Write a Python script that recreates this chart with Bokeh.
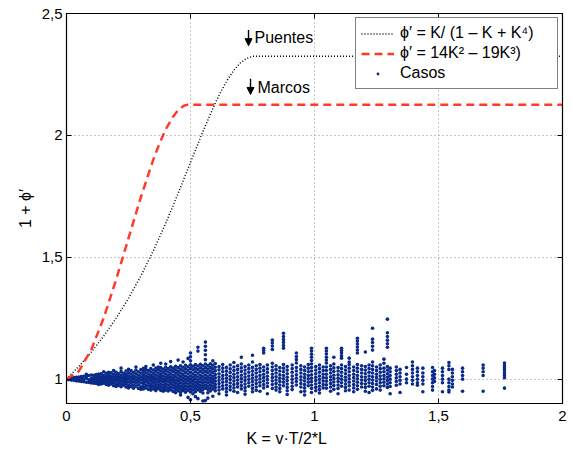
from bokeh.plotting import figure
from bokeh.models import FixedTicker, LinearAxis, Legend, LegendItem, Arrow, NormalHead, Title
from bokeh.core.properties import value
from bokeh.embed import file_html
from bokeh.resources import INLINE

FONT = "Liberation Sans"

# ---- curves (values read / tabulated) ----
k_puentes = [0.0, 0.05, 0.10, 0.15, 0.20, 0.25, 0.30, 0.35, 0.40, 0.45, 0.50, 0.55,
             0.60, 0.625, 0.65, 0.675, 0.70, 0.725, 0.75, 2.0]
y_puentes = [1.0, 1.0526, 1.1111, 1.1764, 1.2495, 1.3316, 1.4237, 1.5263, 1.6394, 1.7614,
             1.8889, 2.0157, 2.1329, 2.1846, 2.2299, 2.2674, 2.2961, 2.3151, 2.3242, 2.3242]

k_marcos = [0.0, 0.05, 0.10, 0.15, 0.20, 0.25, 0.30, 0.35, 0.375, 0.40, 0.425, 0.45, 0.475, 0.49, 2.0]
y_marcos = [1.0, 1.0326, 1.121, 1.2509, 1.408, 1.5781, 1.747, 1.9004, 1.9668, 2.024, 2.0702,
            2.1036, 2.1225, 2.1261, 2.1261]

# ---- cases (columns of points: K value and list of 1+phi' values) ----
casos_k = [
    0.0, 0.005, 0.01, 0.02, 0.03, 0.04, 0.05, 0.06, 0.07, 0.08, 0.09, 0.10,
    0.11, 0.12, 0.13, 0.14, 0.15, 0.16, 0.17, 0.18, 0.19, 0.20,
    0.21, 0.22, 0.23, 0.24, 0.25, 0.26, 0.27, 0.28, 0.29, 0.30,
    0.31, 0.32, 0.33, 0.34, 0.35, 0.36, 0.37, 0.38, 0.39, 0.40,
    0.41, 0.42, 0.43, 0.44, 0.45, 0.46, 0.47, 0.48, 0.49, 0.50,
    0.51, 0.52, 0.53, 0.54, 0.55, 0.56, 0.57, 0.58, 0.59, 0.60,
    0.615, 0.63, 0.645, 0.66, 0.675, 0.69, 0.705, 0.72, 0.735, 0.75,
    0.765, 0.78, 0.795, 0.81, 0.83, 0.845, 0.86, 0.875, 0.89, 0.91,
    0.927, 0.945, 0.96, 0.975, 0.988, 1.005, 1.02, 1.035, 1.048, 1.065,
    1.078, 1.095, 1.109, 1.125, 1.14, 1.158, 1.173, 1.19, 1.205, 1.22,
    1.234, 1.25, 1.265, 1.28, 1.294, 1.305,
    1.33, 1.345, 1.371, 1.395, 1.415, 1.437, 1.476, 1.484, 1.516, 1.542,
    1.556, 1.597, 1.68, 1.766,
]
casos_y = [
    [1.000], [1.001, 0.999], [1.002, 0.998, 1.000], [1.004, 0.996, 1.001],
    [1.006, 0.995, 0.999], [1.007, 0.993, 1.002], [1.009, 0.992, 0.999],
    [1.011, 0.990, 1.003], [1.012, 0.989, 0.998], [1.014, 0.987, 1.004, 1.020],
    [1.015, 0.986, 0.997], [1.017, 0.984, 1.003, 0.993],
    [1.016, 1.006, 0.997, 0.988, 0.983],
    [1.019, 1.008, 1.000, 0.991, 0.982],
    [1.012, 1.003, 0.994, 0.985, 1.021, 0.978],
    [1.022, 1.010, 0.998, 0.987, 0.980],
    [1.015, 1.004, 0.993, 0.983, 1.030],
    [1.024, 1.011, 1.001, 0.990, 0.978],
    [1.018, 1.006, 0.995, 0.984, 0.975, 1.028],
    [1.026, 1.013, 1.002, 0.991, 0.980],
    [1.020, 1.008, 0.996, 0.985, 0.973, 1.035],
    [1.028, 1.015, 1.003, 0.992, 0.979, 0.970],
    [1.022, 1.010, 0.998, 0.986, 0.974],
    [1.031, 1.017, 1.005, 0.993, 0.981, 0.969, 1.045],
    [1.024, 1.011, 0.999, 0.987, 0.975],
    [1.033, 1.019, 1.006, 0.994, 0.982, 0.968],
    [1.026, 1.013, 1.001, 0.988, 0.975, 0.964, 1.040],
    [1.035, 1.021, 1.008, 0.995, 0.983, 0.970],
    [1.028, 1.014, 1.002, 0.989, 0.976, 0.963],
    [1.037, 1.022, 1.009, 0.996, 0.984, 0.971, 1.050],
    [1.030, 1.016, 1.003, 0.990, 0.977, 0.962],
    [1.039, 1.024, 1.010, 0.997, 0.984, 0.969, 0.958],
    [1.032, 1.018, 1.006, 0.994, 0.982, 0.970, 0.960, 1.044],
    [1.040, 1.026, 1.013, 1.001, 0.989, 0.976, 0.964, 1.052],
    [1.035, 1.021, 1.008, 0.996, 0.984, 0.972, 0.958],
    [1.043, 1.029, 1.015, 1.003, 0.991, 0.978, 0.965, 0.955],
    [1.037, 1.023, 1.010, 0.998, 0.986, 0.973, 0.960, 1.058],
    [1.045, 1.031, 1.017, 1.004, 0.992, 0.979, 0.966, 0.953],
    [1.039, 1.025, 1.012, 0.999, 0.987, 0.974, 0.961, 1.050],
    [1.047, 1.033, 1.019, 1.006, 0.993, 0.980, 0.967, 0.954, 1.065],
    [1.041, 1.027, 1.013, 1.000, 0.988, 0.975, 0.962, 0.950],
    [1.049, 1.035, 1.021, 1.007, 0.994, 0.981, 0.968, 0.955, 1.062],
    [1.043, 1.029, 1.015, 1.002, 0.989, 0.976, 0.963, 0.951],
    [1.051, 1.037, 1.022, 1.008, 0.995, 0.982, 0.969, 0.956, 1.072],
    [1.045, 1.031, 1.016, 1.003, 0.990, 0.977, 0.964, 0.949],
    [1.053, 1.038, 1.024, 1.010, 0.996, 0.983, 0.970, 0.957, 0.944],
    [1.047, 1.032, 1.018, 1.004, 0.991, 0.978, 0.965, 0.952, 1.078],
    [1.055, 1.040, 1.025, 1.011, 0.997, 0.984, 0.971, 0.958, 0.945, 0.935],
    [1.049, 1.034, 1.019, 1.005, 0.992, 0.979, 0.966, 0.953, 1.070],
    [1.057, 1.042, 1.027, 1.012, 0.998, 0.985, 0.972, 0.959, 0.946],
    [1.051, 1.036, 1.021, 1.006, 0.993, 0.980, 0.967, 0.954, 0.925, 1.085],
    [1.059, 1.044, 1.028, 1.013, 0.999, 0.986, 0.973, 0.960, 0.947, 1.075, 1.092, 1.107, 0.915],
    [1.053, 1.038, 1.022, 1.008, 0.994, 0.981, 0.968, 0.955, 0.940],
    [1.060, 1.045, 1.030, 1.015, 1.001, 0.987, 0.974, 0.961, 0.948, 0.928],
    [1.054, 1.039, 1.024, 1.009, 0.995, 0.982, 0.969, 0.956, 1.131, 1.115, 0.920],
    [1.061, 1.046, 1.031, 1.016, 1.002, 0.988, 0.975, 0.962, 0.949],
    [1.055, 1.040, 1.025, 1.010, 0.996, 0.983, 0.970, 0.957, 0.943, 0.910],
    [1.062, 1.047, 1.032, 1.017, 1.003, 0.989, 0.976, 0.963, 1.152, 1.135, 1.118, 1.100, 1.080, 0.912],
    [1.056, 1.041, 1.026, 1.011, 0.997, 0.984, 0.971, 0.958, 0.944, 0.922],
    [1.063, 1.048, 1.033, 1.018, 1.004, 0.990, 0.977, 0.964, 0.951],
    [1.057, 1.042, 1.027, 1.012, 0.998, 0.985, 0.972, 0.959, 1.075, 0.930],
    [1.064, 1.049, 1.034, 1.019, 1.005, 0.991, 0.978, 0.965, 0.952],
    [1.052, 1.038, 1.022, 1.008, 0.995, 0.982, 0.968, 0.955, 0.940],
    [1.060, 1.045, 1.030, 1.015, 1.001, 0.987, 0.973, 0.960],
    [1.048, 1.033, 1.018, 1.004, 0.990, 0.976, 0.962, 0.948, 0.935],
    [1.058, 1.042, 1.027, 1.012, 0.998, 0.984, 0.970, 0.956],
    [1.050, 1.035, 1.020, 1.006, 0.992, 0.978, 0.964, 0.950, 1.068],
    [1.055, 1.040, 1.025, 1.010, 0.996, 0.982, 0.968, 0.945],
    [1.090, 1.062, 1.046, 1.031, 1.016, 1.002, 0.988, 0.974, 0.960],
    [1.052, 1.037, 1.022, 1.008, 0.994, 0.980, 0.966, 0.952, 0.938],
    [1.058, 1.043, 1.028, 1.013, 0.999, 0.985, 0.971],
    [1.098, 1.070, 1.048, 1.033, 1.018, 1.004, 0.990, 0.976, 0.962, 0.948],
    [1.055, 1.040, 1.025, 1.010, 0.996, 0.982, 0.968, 0.954],
    [1.060, 1.045, 1.030, 1.015, 1.001, 0.987, 0.973, 0.950],
    [1.127, 1.117, 1.107, 1.050, 1.035, 1.020, 1.006, 0.992, 0.978, 0.964],
    [1.058, 1.042, 1.027, 1.012, 0.998, 0.984, 0.970, 0.940],
    [1.160, 1.148, 1.136, 1.122, 1.065, 1.050, 1.035, 1.020, 1.006, 0.992, 0.978, 0.962],
    [1.055, 1.040, 1.025, 1.010, 0.996, 0.982, 0.968, 0.955],
    [1.048, 1.033, 1.018, 1.004, 0.990, 0.976, 0.962, 0.948],
    [1.188, 1.175, 1.162, 1.150, 1.138, 1.127, 1.060, 1.045, 1.030, 1.015, 1.001, 0.987, 0.973],
    [1.052, 1.037, 1.022, 1.008, 0.994, 0.980, 0.966, 0.952, 0.937],
    [1.058, 1.043, 1.028, 1.013, 0.999, 0.985, 0.971, 0.957],
    [1.107, 1.093, 1.080, 1.066, 1.048, 1.033, 1.018, 1.004, 0.990, 0.976],
    [1.055, 1.040, 1.025, 1.010, 0.996, 0.982, 0.968, 0.948],
    [1.050, 1.035, 1.020, 1.006, 0.992, 0.978, 0.964, 0.950, 0.935],
    [1.060, 1.045, 1.030, 1.015, 1.001, 0.987, 0.973],
    [1.127, 1.115, 1.102, 1.090, 1.076, 1.062, 1.048, 1.033, 1.018, 1.004, 0.990, 0.976, 0.962, 0.945],
    [1.052, 1.037, 1.022, 1.008, 0.994, 0.980, 0.966, 0.952],
    [1.058, 1.043, 1.028, 1.013, 0.999, 0.985, 0.971, 0.957, 0.943],
    [1.050, 1.035, 1.020, 1.006, 0.992, 0.978, 0.964],
    [1.127, 1.115, 1.103, 1.090, 1.078, 1.066, 1.050, 1.035, 1.020, 1.005, 0.991, 0.977, 0.963],
    [1.055, 1.040, 1.025, 1.010, 0.996, 0.982, 0.968, 0.950],
    [1.090, 1.062, 1.046, 1.031, 1.016, 1.002, 0.988, 0.974, 0.958],
    [1.048, 1.033, 1.018, 1.004, 0.990, 0.976, 0.962, 0.940],
    [1.127, 1.117, 1.107, 1.096, 1.086, 1.058, 1.043, 1.028, 1.013, 0.999, 0.985, 0.971],
    [1.052, 1.037, 1.022, 1.008, 0.994, 0.980, 0.966, 0.952],
    [1.086, 1.070, 1.060, 1.045, 1.030, 1.015, 1.001, 0.987, 0.973, 0.955],
    [1.050, 1.035, 1.020, 1.006, 0.992, 0.978, 0.964, 0.948],
    [1.168, 1.156, 1.144, 1.132, 1.119, 1.107, 1.060, 1.045, 1.030, 1.015, 1.001, 0.987, 0.973, 0.958],
    [1.055, 1.040, 1.025, 1.010, 0.996, 0.982, 0.968],
    [1.111, 1.052, 1.037, 1.022, 1.008, 0.994, 0.980, 0.966, 0.950],
    [1.058, 1.043, 1.028, 1.013, 0.999, 0.985, 0.971, 0.945],
    [1.209, 1.164, 1.150, 1.135, 1.119, 1.070, 1.055, 1.040, 1.025, 1.010, 0.996, 0.982, 0.968, 0.954],
    [1.050, 1.035, 1.020, 1.006, 0.992, 0.978, 0.960],
    [1.058, 1.043, 1.028, 1.013, 0.999, 0.985, 0.971, 0.955],
    [1.082, 1.065, 1.045, 1.030, 1.015, 1.001, 0.987, 0.973],
    [1.246, 1.190, 1.175, 1.160, 1.145, 1.131, 1.052, 1.037, 1.022, 1.008, 0.994, 0.980, 0.966],
    [1.045, 1.030, 1.015, 1.000, 0.985, 0.970, 0.940],
    [1.050, 1.035, 1.020, 1.005, 0.990, 0.975],
    [1.040, 1.025, 1.010, 0.995, 0.980, 0.945],
    [1.048, 1.020, 1.000, 0.985],
    [1.070, 1.055, 1.040, 1.025, 1.010, 0.995, 0.980],
    [1.045, 1.030, 1.015, 1.000, 0.985, 0.975],
    [1.045, 1.025, 1.010, 0.995, 0.980, 0.948],
    [1.048, 1.030, 1.015, 1.000, 0.985, 0.970, 0.955],
    [1.035, 1.020, 1.005, 0.990],
    [1.045, 1.030, 1.015, 1.000, 0.985, 0.948],
    [1.068, 1.055, 1.040, 1.000, 0.985, 0.970, 0.955, 0.947],
    [1.040, 1.025, 1.010, 0.995, 0.980, 0.968],
    [1.045, 1.030, 1.015, 1.000, 0.950],
    [1.058, 1.045, 1.030, 1.015, 0.950],
    [1.066, 1.056, 1.046, 1.036, 1.026, 1.016, 1.006, 0.963],
]

# ---- annotations ----
anot_text = ["Puentes", "Marcos"]
anot_k = [0.758, 0.770]
anot_y = [2.402, 2.197]
arrow_k = [0.734, 0.742]
arrow_top = [2.432, 2.232]
arrow_bottom = [2.368, 2.168]

x_label = "K = v·T/2*L"

x_ticks = [0, 0.5, 1, 1.5, 2]
x_tick_labels = ["0", "0,5", "1", "1,5", "2"]
y_ticks = [1, 1.5, 2, 2.5]
y_tick_labels = ["1", "1,5", "2", "2,5"]

casos_x, casos_v = [], []
for k, col in zip(casos_k, casos_y):
    casos_x += [k] * len(col)
    casos_v += col

p = figure(width=570, height=454, x_range=(0, 2), y_range=(0.9, 2.5),
           output_backend="svg", toolbar_location=None,
           min_border_left=66, min_border_right=8, min_border_top=13, min_border_bottom=51,
           background_fill_color="white", border_fill_color="white")

p.outline_line_color = "black"
p.outline_line_width = 1

def style_axis(ax, ticks, labels, show_labels=True):
    ax.ticker = FixedTicker(ticks=ticks)
    ax.major_tick_in = 5
    ax.major_tick_out = 0
    ax.minor_tick_line_color = None
    ax.axis_line_color = "black"
    ax.axis_line_width = 1.2
    ax.major_tick_line_color = "black"
    if show_labels:
        ax.major_label_overrides = {t: l for t, l in zip(ticks, labels)}
        ax.major_label_text_font = FONT
        ax.major_label_text_font_size = "15px"
        ax.major_label_text_color = "black"
    else:
        ax.major_label_text_font_size = "1px"
        ax.major_label_text_color = None
        ax.major_label_standoff = 0
    ax.axis_label_text_font = FONT
    ax.axis_label_text_font_size = "16px"
    ax.axis_label_text_font_style = "normal"
    ax.axis_label_text_color = "black"

style_axis(p.xaxis[0], x_ticks, x_tick_labels)
style_axis(p.yaxis[0], y_ticks, y_tick_labels)
p.yaxis[0].axis_label = "1 + ϕ′"
p.xaxis[0].major_label_standoff = 7
p.yaxis[0].major_label_standoff = 4
p.yaxis[0].axis_label_standoff = 5

top = LinearAxis()
style_axis(top, x_ticks, x_tick_labels, show_labels=False)
p.add_layout(top, "above")
right = LinearAxis()
style_axis(right, y_ticks, y_tick_labels, show_labels=False)
p.add_layout(right, "right")

p.add_layout(Title(text=x_label, align="left", offset=180, standoff=9,
                   text_font=FONT, text_font_size="16px", text_font_style="normal",
                   text_color="black"), "below")

p.xgrid.ticker = FixedTicker(ticks=x_ticks)
p.ygrid.ticker = FixedTicker(ticks=y_ticks)
for g in (p.xgrid[0], p.ygrid[0]):
    g.grid_line_color = "#8c8c8c"
    g.grid_line_dash = "1 3"
    g.grid_line_width = 1

r_casos = p.scatter(casos_x, casos_v, marker="circle", size=3.6,
                    fill_color="#0a2a8a", line_color=None)
r_puentes = p.line(k_puentes, y_puentes, line_color="#000000", line_width=1.5, line_dash="1 2")
r_marcos = p.line(k_marcos, y_marcos, line_color="#ff3a2a", line_width=2.5, line_dash="8 5")

p.text(x=anot_k, y=anot_y, text=anot_text, text_font=value(FONT), text_font_size="16px",
       text_baseline="middle", text_align="left", text_color="black")
for ak, at, ab in zip(arrow_k, arrow_top, arrow_bottom):
    p.add_layout(Arrow(end=NormalHead(size=7, fill_color="black", line_color="black", line_width=1),
                       x_start=ak, y_start=at, x_end=ak, y_end=ab,
                       line_color="black", line_width=1.4))

legend = Legend(items=[
    LegendItem(label="ϕ′ = K/ (1 – K + K⁴)", renderers=[r_puentes]),
    LegendItem(label="ϕ′ = 14K² – 19K³)", renderers=[r_marcos]),
    LegendItem(label="Casos", renderers=[r_casos]),
], location="top_right")
legend.margin = 4
legend.padding = 5
legend.spacing = 0
legend.glyph_width = 33
legend.glyph_height = 7
legend.label_height = 20
legend.label_width = 152
legend.label_standoff = 6
legend.label_text_font = FONT
legend.label_text_font_size = "16px"
legend.label_text_color = "black"
legend.border_line_color = "black"
legend.border_line_width = 1.5
legend.background_fill_color = "white"
legend.background_fill_alpha = 1
p.add_layout(legend, "center")

open("out.html", "w").write(file_html(p, INLINE))
